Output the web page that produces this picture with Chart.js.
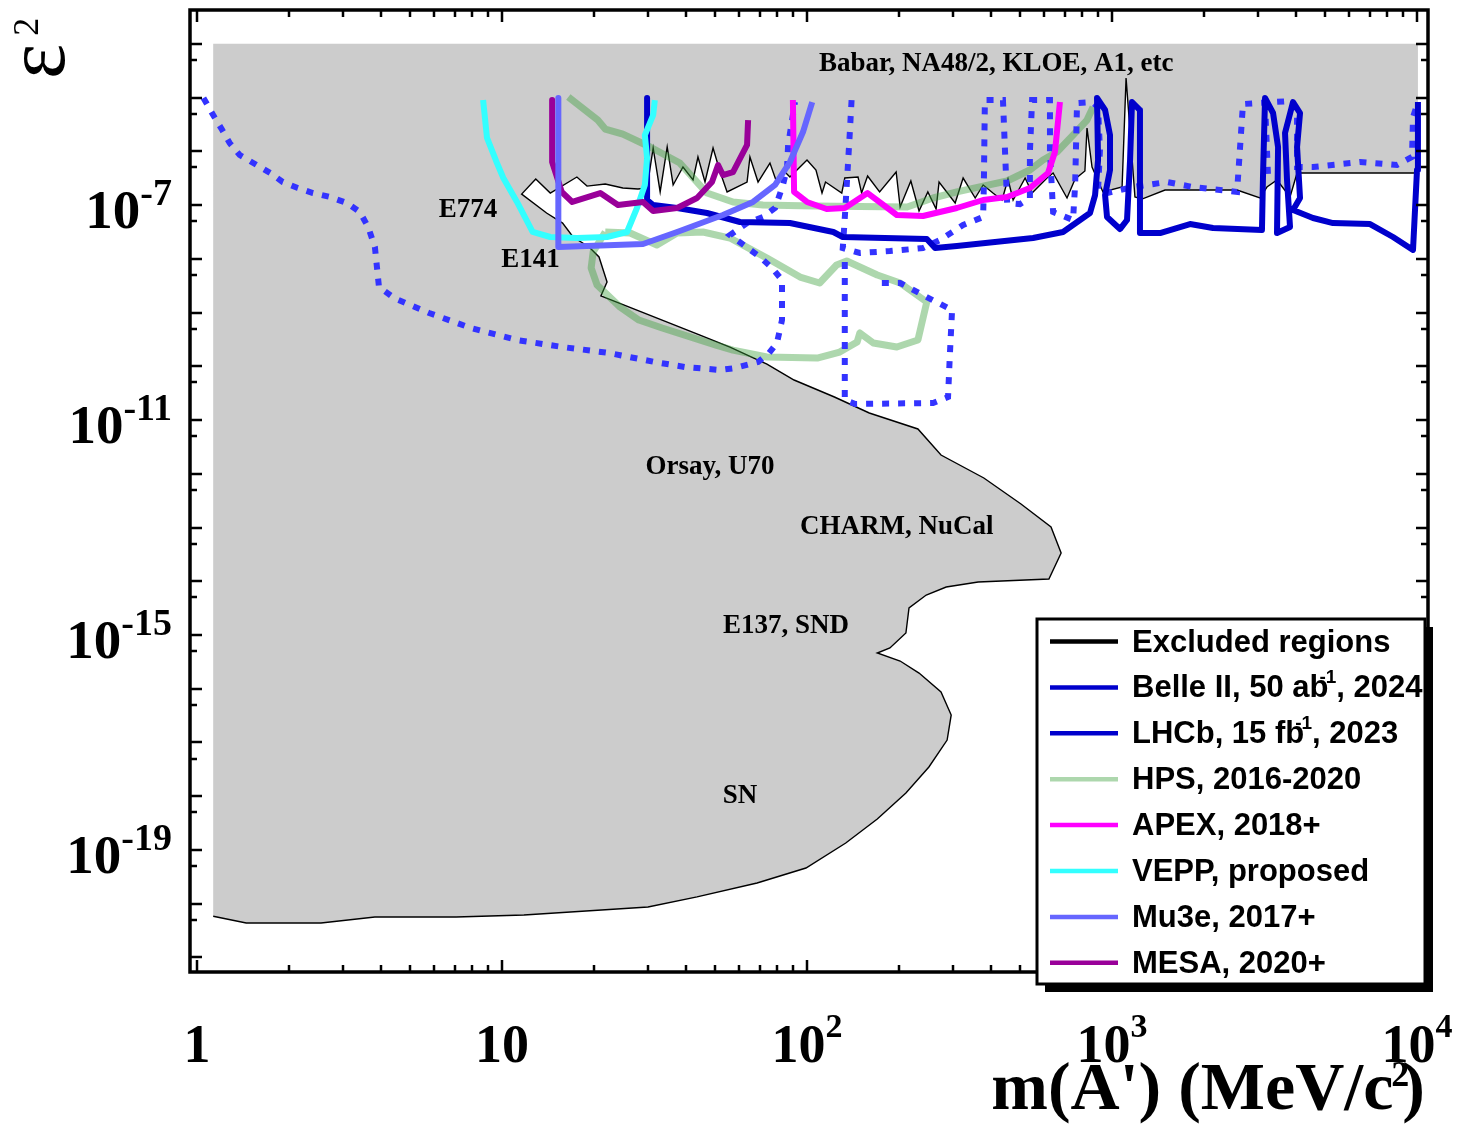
<!DOCTYPE html>
<html>
<head>
<meta charset="utf-8">
<script src="https://cdn.jsdelivr.net/npm/chart.js@4.4.1/dist/chart.umd.min.js"></script>
<style>
html,body{margin:0;padding:0;background:#fff;}
#wrap{width:1460px;height:1125px;position:relative;}
</style>
</head>
<body>
<div id="wrap"><canvas id="c" width="1460" height="1125"></canvas></div>
<script>
// ---------------- data: [mass (MeV/c^2), epsilon^2] ----------------
const excludedTopEps = 1e-4;
const excludedMassEdges = [1.13, 10070];
const excludedBoundary = [
[10070,3.94e-7],[4043,3.94e-7],[3834,1.41e-7],[3475,2.92e-7],[3221,2.16e-7],[3055,1.35e-7],[2570,1.90e-7],[1492,1.90e-7],[1254,1.29e-7],[1189,1.41e-7],[1112,2.31e-5],[1079,2.16e-7],[934,1.75e-7],[860,5.09e-7],[828,2.71e-6],[815,4.30e-7],[757,3.05e-7],[712,1.35e-7],[641,3.94e-7],[612,3.18e-7],[547,1.67e-7],[519,3.18e-7],[474,1.24e-7],[456,3.05e-7],[436,1.24e-7],[407,1.67e-7],[378,2.36e-7],[356,1.35e-7],[325,3.18e-7],[306,1.09e-7],[271,2.68e-7],[265,8.43e-8],[249,1.75e-7],[233,7.73e-8],[219,2.80e-7],[202,9.18e-8],[196,4.11e-7],[173,1.75e-7],[158,3.47e-7],[151,1.67e-7],[147,3.32e-7],[133,3.18e-7],[130,1.67e-7],[115,2.68e-7],[112,1.67e-7],[107,4.48e-7],[100,6.87e-7],[87.9,3.32e-7],[84.7,4.11e-7],[79.7,2.56e-7],[75.6,6.04e-7],[69.1,2.68e-7],[65.0,7.82e-7],[63.6,2.68e-7],[54.7,1.75e-7],[51.9,4.11e-7],[49.2,1.15e-6],[46.3,2.68e-7],[43.9,7.82e-7],[42.3,2.92e-7],[39.2,5.09e-7],[36.4,2.36e-7],[34.8,1.20e-6],[33.0,1.75e-7],[31.3,1.15e-6],[29.9,2.07e-7],[27.9,1.99e-7],[24.9,2.07e-7],[21.8,2.46e-7],[19.0,2.25e-7],[17.6,3.32e-7],[14.4,1.67e-7],[12.9,3.05e-7],[11.6,1.60e-7],[14.0,7.10e-8],[15.8,4.62e-8],[17.1,2.54e-8],[19.3,1.66e-8],[20.8,1.08e-8],[22.1,3.69e-9],[21.1,2.03e-9],[44.6,3.81e-10],[55.9,2.28e-10],[73.9,1.10e-10],[90.7,5.55e-11],[123,2.68e-11],[160,1.35e-11],[231,6.81e-12],[275,2.23e-12],[380,8.34e-13],[503,2.74e-13],[631,1.02e-13],[681,3.36e-14],[621,1.10e-14],[364,9.68e-15],[286,7.82e-15],[246,5.55e-15],[216,3.18e-15],[211,1.09e-15],[187,5.73e-16],[170,4.62e-16],[202,3.28e-16],[233,1.96e-16],[275,8.70e-17],[297,3.25e-17],[288,1.11e-17],[251,3.50e-18],[211,1.15e-18],[170,3.77e-19],[134,1.35e-19],[99.2,4.62e-20],[68.6,2.43e-20],[43.6,1.34e-20],[30.1,8.70e-21],[11.8,6.18e-21],[7.07,5.66e-21],[3.83,5.66e-21],[2.55,4.38e-21],[1.45,4.38e-21],[1.13,5.85e-21]
];
const belle2 = [
[29.9,9.8e-6],[29.9,1.24e-7],[31.3,1e-7],[37.5,8.80e-8],[47.0,7.10e-8],[60.3,4.83e-8],[87.9,4.62e-8],[122,3.15e-8],[131,2.54e-8],[247,2.33e-8],[263,1.58e-8],[310,1.73e-8],[551,2.43e-8],[691,3.15e-8],[847,7.10e-8],[880,1.53e-7],[900,6.87e-7],[893,9.8e-6],[949,5.85e-6],[985,2.0e-6],[985,4.48e-7],[949,1.53e-7],[963,5.98e-8],[1062,3.57e-8],[1120,5.26e-8],[1146,6.87e-7],[1163,8.24e-6],[1235,5.85e-6],[1235,3.01e-8],[1437,3.01e-8],[1802,4.43e-8],[2144,3.73e-8],[3102,3.43e-8],[3126,3.32e-7],[3175,9.8e-6],[3373,5.15e-6],[3503,1.20e-6],[3475,3.01e-8],[3834,3.90e-8],[3748,2.92e-7],[3692,2.19e-6],[3922,8.24e-6],[4135,5.15e-6],[4043,1.20e-6],[4135,1.35e-7],[3922,8.07e-8],[4560,5.73e-8],[5304,4.62e-8],[7015,4.43e-8],[8344,2.54e-8],[9703,1.46e-8],[10000,4.48e-7],[10070,8.24e-6]
];
const lhcbDisplacedLow = [
[1.05,9.8e-6],[1.13,4.72e-6],[1.21,2.48e-6],[1.28,1.42e-6],[1.38,8.51e-7],[1.57,5.54e-7],[1.74,3.94e-7],[1.91,2.68e-7],[2.14,2.07e-7],[2.40,1.67e-7],[2.73,1.41e-7],[3.10,1.09e-7],[3.42,7.41e-8],[3.64,3.90e-8],[3.83,1.66e-8],[3.95,2.98e-9],[4.43,1.86e-9],[5.77,9.79e-10],[7.91,5.15e-10],[11.2,3.08e-10],[15.8,2.28e-10],[22.4,1.77e-10],[31.7,1.20e-10],[39.8,9.68e-11],[51.9,8.51e-11],[58.1,9.27e-11],[69.1,1.20e-10],[75.1,1.77e-10],[79.7,2.71e-10],[82.8,7.25e-10],[82.8,4.03e-9],[76.8,6.73e-9],[70.1,1.08e-8],[55.9,2.77e-8],[63.6,4.62e-8],[71.7,5.98e-8],[78.6,8.80e-8],[83.4,2.36e-7],[86.0,4.88e-7],[86.7,1.31e-6],[89.9,4.72e-6],[91.3,8.24e-6]
];
const lhcbPrompt = [
[140,8.97e-6],[138,2.0e-6],[135,2.36e-7],[133,5.73e-8],[131,1.58e-8],[149,1.28e-8],[187,1.39e-8],[240,1.58e-8],[273,2.23e-8],[325,4.25e-8],[378,5.98e-8],[380,2.36e-7],[383,8.97e-6],[439,8.97e-6],[446,9.69e-7],[453,1.09e-7],[499,1.04e-7],[538,1.35e-7],[538,9.69e-7],[547,8.97e-6],[626,8.97e-6],[626,9.69e-7],[641,7.41e-8],[745,5.26e-8],[757,2.36e-7],[768,7.91e-6],[860,8.24e-6],[900,6.65e-6],[913,1.05e-6],[900,1.90e-7],[963,1.67e-7],[1172,2.16e-7],[1514,2.68e-7],[1843,2.16e-7],[2570,1.75e-7],[2688,7.57e-6],[3834,8.61e-6],[4043,5.85e-6],[4043,5.09e-7],[4560,5.09e-7],[6504,6.31e-7],[8601,5.54e-7],[9630,7.82e-7],[9703,4.34e-6],[10070,8.24e-6]
];
const lhcbNotch = [[3175,7.91e-6],[3248,3.32e-7]];
const lhcbDisplacedHigh = [
[133,8.70e-9],[133,2.36e-11],[144,1.99e-11],[259,2.07e-11],[290,2.68e-11],[294,1.62e-10],[299,1.11e-9],[247,1.94e-9],[202,3.54e-9],[170,3.54e-9]
];
const hpsPrompt = [
[16.5,1.02e-5],[20.6,3.81e-6],[21.8,2.59e-6],[24.9,2.09e-6],[30.6,1.20e-6],[38.3,6.04e-7],[47.0,1.67e-7],[57.2,1.14e-7],[71.7,1e-7],[105,9.58e-8],[213,9.18e-8],[259,1.35e-7],[310,1.75e-7],[378,2.25e-7],[453,2.80e-7],[538,4.48e-7],[594,6.87e-7],[660,9.69e-7],[745,2.0e-6],[828,3.81e-6],[867,6.65e-6]
];
const hpsVertex = [
[21.8,3.15e-8],[26.3,3.01e-8],[32.2,1.80e-8],[37.5,3.01e-8],[45.6,3.15e-8],[55.9,2.43e-8],[73.9,1.03e-8],[94.9,4.57e-9],[110,3.54e-9],[125,7.66e-9],[135,9.08e-9],[170,4.99e-9],[202,3.54e-9],[247,1.57e-9],[231,3.08e-10],[197,2.28e-10],[165,2.71e-10],[149,4.16e-10],[146,2.83e-10],[128,1.84e-10],[108,1.42e-10],[73.9,1.49e-10],[57.2,2.00e-10],[50.3,2.48e-10],[33.5,5.15e-10],[28.1,7.25e-10],[24.4,1.26e-9],[20.5,3.25e-9],[19.6,6.73e-9],[19.9,1.34e-8],[21.8,3.15e-8]
];
const apex = [
[89.9,8.97e-6],[90.7,1.75e-7],[100,1.14e-7],[116,8.43e-8],[133,8.80e-8],[158,1.67e-7],[197,6.52e-8],[240,6.24e-8],[310,8.80e-8],[378,1.24e-7],[453,1.41e-7],[538,2.07e-7],[617,3.94e-7],[650,9.69e-7],[675,8.24e-6]
];
const vepp = [
[8.67,8.97e-6],[8.93,1.77e-6],[9.63,6.04e-7],[10.1,3.18e-7],[11.2,1.14e-7],[12.6,3.15e-8],[14.4,2.54e-8],[17.6,2.43e-8],[22.1,2.54e-8],[25.7,3.15e-8],[27.7,8.80e-8],[29.4,2.36e-7],[29.9,7.48e-7],[29.4,2.0e-6],[31.3,4.72e-6],[31.7,8.97e-6]
];
const mu3e = [
[15.3,9.8e-6],[15.3,1.66e-8],[29.0,1.88e-8],[37.5,3.15e-8],[53.0,6.52e-8],[66.5,1.14e-7],[78.6,2.36e-7],[87.9,6.31e-7],[97.0,2.28e-6],[104,8.24e-6]
];
const mesa = [
[14.6,8.97e-6],[14.6,6.31e-7],[15.7,1.75e-7],[17.0,1.14e-7],[21.0,1.67e-7],[24.0,1e-7],[29.0,1.14e-7],[31.3,7.73e-8],[37.5,8.80e-8],[43.6,1.35e-7],[48.8,2.68e-7],[51.1,5.54e-7],[53.0,3.61e-7],[57.2,4.11e-7],[63.6,1.31e-6],[64.1,3.81e-6]
];
const xTickValues = [1, 10, 100, 1000, 10000];
const xTickLabels = ['1', '10', '10^2', '10^3', '10^4'];
const yTickValues = [1e-7, 1e-11, 1e-15, 1e-19];
const yTickLabels = ['10^-7', '10^-11', '10^-15', '10^-19'];
const regionLabels = [
  {text: 'Babar, NA48/2, KLOE, A1, etc', m: 417, eps: 3.11e-5},
  {text: 'E774', m: 7.74, eps: 5.98e-8},
  {text: 'E141', m: 12.4, eps: 7.03e-9},
  {text: 'Orsay, U70', m: 48.1, eps: 9.89e-13},
  {text: 'CHARM, NuCal', m: 197, eps: 7.57e-14},
  {text: 'E137, SND', m: 85.3, eps: 1.09e-15},
  {text: 'SN', m: 60.3, eps: 7.48e-19}
];
const legendEntries = [
  {parts: ['Excluded regions'], color: '#000000'},
  {parts: ['Belle II, 50 ab', '-1', ', 2024'], color: '#0000cc'},
  {parts: ['LHCb, 15 fb', '-1', ', 2023'], color: '#0000cc'},
  {parts: ['HPS, 2016-2020'], color: 'rgba(60,160,60,0.42)'},
  {parts: ['APEX, 2018+'], color: '#ff00ff'},
  {parts: ['VEPP, proposed'], color: '#33ffff'},
  {parts: ['Mu3e, 2017+'], color: '#6666ff'},
  {parts: ['MESA, 2020+'], color: '#990099'}
];

// ---------------- helpers ----------------
const pts = arr => arr.map(p => ({x: p[0], y: p[1]}));
const excludedShape = [[excludedMassEdges[0], excludedTopEps], [excludedMassEdges[1], excludedTopEps]]
  .concat(excludedBoundary, [[excludedMassEdges[0], excludedTopEps]]);

function lineDs(label, arr, color, width, order, extra) {
  return Object.assign({
    label, data: pts(arr), showLine: true, borderColor: color, backgroundColor: color,
    borderWidth: width, pointRadius: 0, pointHoverRadius: 0, fill: false, order,
    borderJoinStyle: 'round'
  }, extra || {});
}
const DASH = {borderDash: [7, 9], borderJoinStyle: 'miter', borderCapStyle: 'butt'};
const LHCB_COLOR = '#3333ff';

const datasets = [
  lineDs('Excluded fill', excludedShape, 'rgba(0,0,0,0)', 1, 100, {fill: 'shape', backgroundColor: '#cccccc'}),
  lineDs('Excluded regions', excludedBoundary, '#000000', 1.4, 90, {borderJoinStyle: 'miter'}),
  lineDs('HPS, 2016-2020', hpsPrompt, 'rgba(60,160,60,0.42)', 7, 80),
  lineDs('HPS vertex', hpsVertex, 'rgba(60,160,60,0.42)', 7, 79),
  lineDs('LHCb, 15 fb-1, 2023', lhcbDisplacedLow, LHCB_COLOR, 6, 70, DASH),
  lineDs('LHCb prompt', lhcbPrompt, LHCB_COLOR, 6, 69, DASH),
  lineDs('LHCb notch', lhcbNotch, LHCB_COLOR, 6, 68, DASH),
  lineDs('LHCb displaced', lhcbDisplacedHigh, LHCB_COLOR, 6, 67, DASH),
  lineDs('Belle II, 50 ab-1, 2024', belle2, '#0000cc', 6, 60),
  lineDs('APEX, 2018+', apex, '#ff00ff', 6, 50),
  lineDs('VEPP, proposed', vepp, '#33ffff', 6, 40),
  lineDs('MESA, 2020+', mesa, '#990099', 6, 30),
  lineDs('Mu3e, 2017+', mu3e, '#6666ff', 6, 20)
];

const SERIF = '"Liberation Serif", "Times New Roman", serif';
const SANS = '"Liberation Sans", Arial, Helvetica, sans-serif';

function drawPower(ctx, label, x, y, align, mainPx, supPx, raise) {
  const [base, sup] = label.split('^');
  ctx.font = `bold ${mainPx}px ${SERIF}`;
  const wb = ctx.measureText(base).width;
  ctx.font = `bold ${supPx}px ${SERIF}`;
  const ws = sup ? ctx.measureText(sup).width : 0;
  const total = wb + ws;
  const x0 = align === 'center' ? x - total / 2 : (align === 'right' ? x - total : x);
  ctx.textAlign = 'left';
  ctx.font = `bold ${mainPx}px ${SERIF}`;
  ctx.fillText(base, x0, y);
  if (sup) { ctx.font = `bold ${supPx}px ${SERIF}`; ctx.fillText(sup, x0 + wb, y - raise); }
}

const overlay = {
  id: 'overlay',
  afterDraw(chart) {
    const {ctx, chartArea: ca} = chart;
    const xs = chart.scales.x, ys = chart.scales.y;
    ctx.save();
    ctx.fillStyle = '#000';
    ctx.textBaseline = 'alphabetic';
    // region labels
    ctx.font = `bold 27px ${SERIF}`;
    ctx.textAlign = 'center';
    regionLabels.forEach(l => ctx.fillText(l.text, xs.getPixelForValue(l.m), ys.getPixelForValue(l.eps)));

    // ticks
    ctx.strokeStyle = '#000';
    ctx.lineWidth = 2.5;
    ctx.beginPath();
    for (let d = -1; d <= 4; d++) {
      for (let k = 1; k <= 9; k++) {
        const v = k * Math.pow(10, d);
        if (v < xs.min || v > xs.max) continue;
        const px = Math.round(xs.getPixelForValue(v));
        const len = k === 1 ? 12 : 7;
        ctx.moveTo(px, ca.bottom); ctx.lineTo(px, ca.bottom - len);
        ctx.moveTo(px, ca.top); ctx.lineTo(px, ca.top + len);
      }
    }
    for (let n = -23; n <= -2; n++) {
      [[Math.pow(10, n), 12], [5 * Math.pow(10, n - 1), 7]].forEach(([v, len]) => {
        if (v < ys.min || v > ys.max) return;
        const py = Math.round(ys.getPixelForValue(v));
        ctx.moveTo(ca.left, py); ctx.lineTo(ca.left + len, py);
        ctx.moveTo(ca.right, py); ctx.lineTo(ca.right - len, py);
      });
    }
    ctx.stroke();
    // frame
    ctx.lineWidth = 3.5;
    ctx.strokeRect(ca.left, ca.top, ca.right - ca.left, ca.bottom - ca.top);

    // tick labels
    xTickValues.forEach((v, i) => drawPower(ctx, xTickLabels[i], xs.getPixelForValue(v), 1062, 'center', 54, 34, 25));
    yTickValues.forEach((v, i) => drawPower(ctx, yTickLabels[i], 172, ys.getPixelForValue(v) + 23, 'right', 55, 38, 23));

    // x title
    ctx.textAlign = 'left';
    ctx.font = `bold 68px ${SERIF}`;
    const t1 = "m(A') (MeV/c";
    const w1 = ctx.measureText(t1).width;
    const wc = ctx.measureText(')').width;
    ctx.font = `bold 36px ${SERIF}`;
    const w2 = ctx.measureText('2').width;
    const xc = 1425 - wc - w2 * 0.5;
    ctx.font = `bold 68px ${SERIF}`;
    ctx.fillText(t1, xc - w1, 1109);
    ctx.fillText(')', xc + w2 * 0.5, 1109);
    ctx.font = `bold 36px ${SERIF}`;
    ctx.fillText('2', xc - 2, 1086);

    // y title (epsilon squared, rotated)
    ctx.save();
    ctx.translate(64, 79);
    ctx.rotate(-Math.PI / 2);
    ctx.font = `84px ${SERIF}`;
    ctx.fillText('\u03B5', 0, 0);
    const we = ctx.measureText('\u03B5').width;
    ctx.font = `36px ${SERIF}`;
    ctx.fillText('2', we + 8, -26);
    ctx.restore();

    // legend box
    const bx = 1037, by = 619, bw = 388, bh = 365;
    ctx.fillStyle = '#000';
    ctx.fillRect(bx + 8, by + 8, bw, bh);
    ctx.fillStyle = '#fff';
    ctx.fillRect(bx, by, bw, bh);
    ctx.lineWidth = 3;
    ctx.strokeStyle = '#000';
    ctx.strokeRect(bx, by, bw, bh);
    legendEntries.forEach((e, i) => {
      const cy = 641.5 + i * 45.9;
      ctx.strokeStyle = e.color;
      ctx.lineWidth = 4.5;
      ctx.beginPath(); ctx.moveTo(1050, cy); ctx.lineTo(1118, cy); ctx.stroke();
      ctx.fillStyle = '#000';
      ctx.font = `bold 31px ${SANS}`;
      let x = 1132;
      const yb = cy + 10;
      ctx.fillText(e.parts[0], x, yb);
      x += ctx.measureText(e.parts[0]).width;
      if (e.parts.length > 1) {
        ctx.font = `bold 19px ${SANS}`;
        ctx.fillText(e.parts[1], x - 9, yb - 14);
        x += ctx.measureText(e.parts[1]).width - 9;
        ctx.font = `bold 31px ${SANS}`;
        ctx.fillText(e.parts[2], x, yb);
      }
    });
    ctx.restore();
  }
};

new Chart(document.getElementById('c'), {
  type: 'scatter',
  data: {datasets},
  options: {
    responsive: false,
    animation: false,
    devicePixelRatio: 1,
    layout: {padding: {left: 190, top: 10, right: 32, bottom: 153}},
    scales: {
      x: {type: 'logarithmic', min: 0.9485, max: 10865, bounds: 'data', display: false},
      y: {type: 'logarithmic', min: 5.37e-22, max: 4.25e-4, bounds: 'data', display: false}
    },
    plugins: {legend: {display: false}, tooltip: {enabled: false}},
    elements: {line: {tension: 0}}
  },
  plugins: [overlay]
});
</script>
</body>
</html>
